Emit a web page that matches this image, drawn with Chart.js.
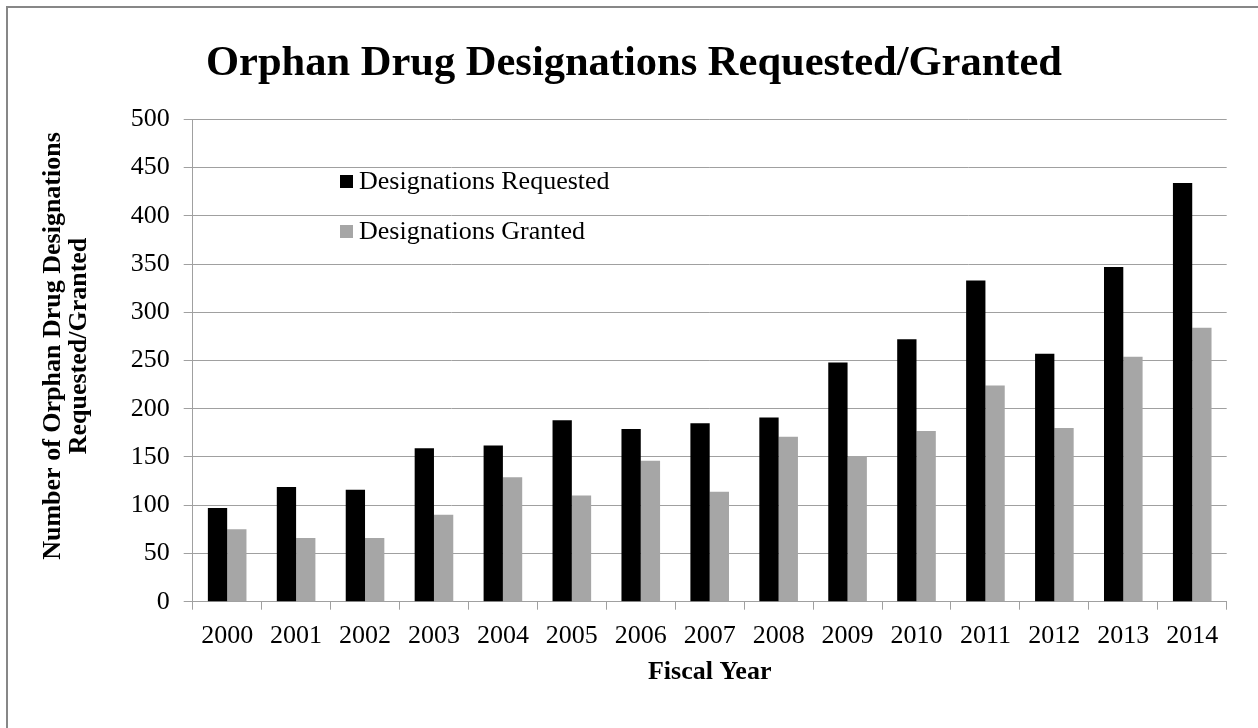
<!DOCTYPE html>
<html>
<head>
<meta charset="utf-8">
<script src="https://cdn.jsdelivr.net/npm/chart.js@4.4.1/dist/chart.umd.min.js"></script>
<style>
  html, body { margin: 0; padding: 0; background: #ffffff; overflow: hidden; }
  #wrap { position: relative; width: 1258px; height: 728px; }
  #frame { position: absolute; left: 6px; top: 6px; width: 1300px; height: 800px;
           border-left: 2px solid #878787; border-top: 2px solid #878787; pointer-events: none; }
  canvas { position: absolute; left: 0; top: 0; }
  .leg { position: absolute; font-family: "Liberation Serif", serif; font-size: 26px; color: #000;
         line-height: 30px; white-space: nowrap; }
  .leg .sw { display: inline-block; width: 13px; height: 13px; margin-right: 6px; vertical-align: 1px; }
</style>
</head>
<body>
<div id="wrap">
  <canvas id="c" width="1258" height="728"></canvas>
  <div id="frame"></div>
  <div id="legend"></div>
</div>
<script>
const categories = ['2000','2001','2002','2003','2004','2005','2006','2007','2008','2009','2010','2011','2012','2013','2014'];
const requested = [97, 119, 116, 159, 162, 188, 179, 185, 191, 248, 272, 333, 257, 347, 434];
const granted   = [75, 66, 66, 90, 129, 110, 146, 114, 171, 151, 177, 224, 180, 254, 284];
const seriesNames = ['Designations Requested', 'Designations Granted'];
const seriesColors = ['#000000', '#a6a6a6'];
const yTicksMin = 0, yTicksMax = 500, yTickStep = 50;
const chartTitle = 'Orphan Drug Designations Requested/Granted';
const xTitle = 'Fiscal Year';
const yTitleLines = ['Number of Orphan Drug Designations', 'Requested/Granted'];

const FONT = '"Liberation Serif", "Times New Roman", serif';

// y-axis title drawn on the canvas, rotated, beside the y axis
const yTitlePlugin = {
  id: 'yTitle',
  afterDraw(chart) {
    const ctx = chart.ctx;
    ctx.save();
    ctx.font = 'bold 26px ' + FONT;
    ctx.fillStyle = '#000';
    ctx.textAlign = 'center';
    ctx.textBaseline = 'middle';
    const cy = 346;
    const xs = [53, 79];
    yTitleLines.forEach((t, i) => {
      ctx.save();
      ctx.translate(xs[i], cy);
      ctx.rotate(-Math.PI / 2);
      ctx.fillText(t, 0, 0);
      ctx.restore();
    });
    ctx.restore();
  }
};

const chart = new Chart(document.getElementById('c'), {
  type: 'bar',
  data: {
    labels: categories,
    datasets: [
      { label: seriesNames[0], data: requested, backgroundColor: seriesColors[0], borderWidth: 0,
        categoryPercentage: 0.56, barPercentage: 1.0 },
      { label: seriesNames[1], data: granted, backgroundColor: seriesColors[1], borderWidth: 0,
        categoryPercentage: 0.56, barPercentage: 1.0 }
    ]
  },
  plugins: [yTitlePlugin],
  options: {
    responsive: false,
    animation: false,
    devicePixelRatio: 1,
    layout: { padding: { left: 41.3, right: 31.3, top: 0, bottom: 0 } },
    plugins: {
      legend: { display: false },
      tooltip: { enabled: false },
      title: {
        display: true,
        text: chartTitle,
        color: '#000',
        font: { family: FONT, size: 42.5, weight: 'bold', lineHeight: 1.2 },
        padding: { top: 39, bottom: 29.3 }
      }
    },
    scales: {
      x: {
        grid: { display: true, drawOnChartArea: false, drawTicks: true, tickLength: 8,
                color: '#a0a0a0', offset: true },
        border: { display: true, color: '#a0a0a0', width: 1 },
        ticks: { color: '#000', font: { family: FONT, size: 26 }, padding: 11, maxRotation: 0, autoSkip: false },
        title: { display: true, text: xTitle, color: '#000',
                 font: { family: FONT, size: 26, weight: 'bold', lineHeight: 1.2 },
                 padding: { top: 0, bottom: 40.5 } },
        afterFit: (s) => { s.height = 126.3; }
      },
      y: {
        min: yTicksMin, max: yTicksMax,
        grid: { color: '#a0a0a0', lineWidth: 1, drawTicks: true, tickLength: 9 },
        border: { display: true, color: '#a0a0a0', width: 1 },
        ticks: { stepSize: yTickStep, color: '#000', font: { family: FONT, size: 26 }, padding: 14 },
        title: { display: false },
        afterFit: (s) => { s.width = 151.4; }
      }
    }
  }
});

// HTML legend built from dataset names/colours, placed inside the plot area
const legend = document.getElementById('legend');
const legendTops = [166, 216];
chart.data.datasets.forEach((ds, i) => {
  const d = document.createElement('div');
  d.className = 'leg';
  d.style.left = '340px';
  d.style.top = legendTops[i] + 'px';
  const sw = document.createElement('span');
  sw.className = 'sw';
  sw.style.background = ds.backgroundColor;
  d.appendChild(sw);
  d.appendChild(document.createTextNode(ds.label));
  legend.appendChild(d);
});
</script>
</body>
</html>
